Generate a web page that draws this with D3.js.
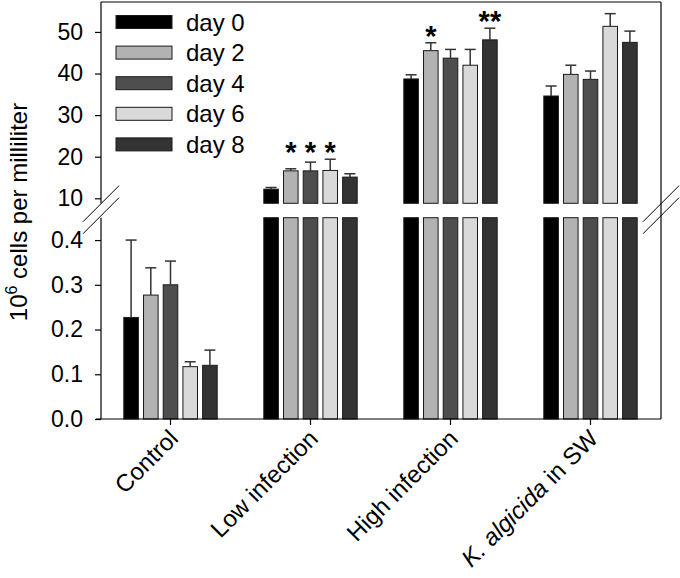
<!DOCTYPE html>
<html><head><meta charset="utf-8">
<script src="https://cdn.jsdelivr.net/npm/d3@7"></script>
<style>
body{margin:0;background:#fff}
text{font-family:"Liberation Sans",Arial,Helvetica,sans-serif;fill:#000}
</style></head>
<body><svg id="chart" width="680" height="578"></svg>
<script>
// ---- data ----
const groups = ["Control", "Low infection", "High infection", "K. algicida in SW"];
const series = ["day 0", "day 2", "day 4", "day 6", "day 8"];
const colors = ["#000000", "#b2b2b2", "#4e4e4e", "#d9d9d9", "#333333"];
const day0 = [0.227, 12.2, 38.7, 34.6];
const day2 = [0.277, 16.6, 45.5, 39.8];
const day4 = [0.300, 16.6, 43.7, 38.6];
const day6 = [0.117, 16.7, 42.0, 51.35];
const day8 = [0.120, 15.1, 48.1, 47.5];
const err0 = [0.173, 0.4, 1.0, 2.4];
const err2 = [0.061, 0.5, 1.9, 2.2];
const err4 = [0.053, 2.1, 2.1, 2.0];
const err6 = [0.011, 2.7, 3.8, 3.05];
const err8 = [0.034, 0.8, 2.8, 2.7];
const star0 = ["", "", "", ""];
const star2 = ["", "*", "*", ""];
const star4 = ["", "*", "", ""];
const star6 = ["", "*", "", ""];
const star8 = ["", "", "**", ""];
const lowTicks = [0.0, 0.1, 0.2, 0.3, 0.4];
const highTicks = [10, 20, 30, 40, 50];
const lowDomain = [0, 0.45];
const highDomain = [8.8, 57.2];

const vals = [day0, day2, day4, day6, day8];
const errs = [err0, err2, err4, err6, err8];
const stars = [star0, star2, star4, star6, star8];

// ---- layout ----
const svg = d3.select("#chart");
const L = 101, R = 661, T = 2, B = 419;
const lowTop = 217.7, highBottom = 203.3;

const x0 = d3.scaleBand().domain(groups).range([L - 0.5, R - 0.5]);
const x1 = d3.scaleBand().domain(series).range([-49.25, 49.25]).paddingInner(0.26).paddingOuter(0.13);
const yLow = d3.scaleLinear().domain(lowDomain).range([B, lowTop]);
const yHigh = d3.scaleLinear().domain(highDomain).range([highBottom, T]);

const lowMax = lowDomain[1];
const bars = [];
series.forEach((s, si) => {
  groups.forEach((g, gi) => {
    bars.push({s, si, g, gi, v: vals[si][gi], e: errs[si][gi], star: stars[si][gi]});
  });
});
const cx = d => x0(d.g) + x0.bandwidth() / 2 + x1(d.s) + x1.bandwidth() / 2;
const bx = d => x0(d.g) + x0.bandwidth() / 2 + x1(d.s);
const yv = v => v <= lowMax ? yLow(v) : yHigh(v);

const g = svg.append("g");

// lower segments
g.selectAll("rect.low").data(bars).join("rect")
  .attr("x", bx).attr("width", x1.bandwidth())
  .attr("y", d => d.v <= lowMax ? yLow(d.v) : yLow(lowMax))
  .attr("height", d => B - (d.v <= lowMax ? yLow(d.v) : yLow(lowMax)))
  .attr("fill", d => colors[d.si]).attr("stroke", "#1a1a1a").attr("stroke-width", 1);

// upper segments
g.selectAll("rect.high").data(bars.filter(d => d.v > lowMax)).join("rect")
  .attr("x", bx).attr("width", x1.bandwidth())
  .attr("y", d => yHigh(d.v))
  .attr("height", d => highBottom - yHigh(d.v))
  .attr("fill", d => colors[d.si]).attr("stroke", "#1a1a1a").attr("stroke-width", 1);

// error bars
const eg = g.append("g").attr("stroke", "#333").attr("stroke-width", 1.5);
eg.selectAll("line.v").data(bars).join("line")
  .attr("x1", cx).attr("x2", cx)
  .attr("y1", d => yv(d.v)).attr("y2", d => yv(d.v + d.e));
eg.selectAll("line.c").data(bars).join("line")
  .attr("x1", d => cx(d) - 5.5).attr("x2", d => cx(d) + 5.5)
  .attr("y1", d => yv(d.v + d.e)).attr("y2", d => yv(d.v + d.e));

// significance stars: adjacent starred bars share the highest height
const starred = bars.filter(d => d.star);
starred.forEach(d => {
  let ytop = yv(d.v + d.e);
  let i = d.si;
  while (i - 1 >= 0 && stars[i - 1][d.gi]) i--;
  let j = d.si;
  while (j + 1 < series.length && stars[j + 1][d.gi]) j++;
  for (let k = i; k <= j; k++) ytop = Math.min(ytop, yv(vals[k][d.gi] + errs[k][d.gi]));
  d.sy = ytop;
});
g.selectAll("text.star").data(starred).join("text")
  .attr("x", cx).attr("y", d => d.sy + 3)
  .attr("text-anchor", "middle")
  .style("font-size", "29px").style("font-weight", "bold")
  .text(d => d.star);

// frame
const fr = svg.append("g").attr("stroke", "#000").attr("stroke-width", 1.2).attr("fill", "none");
fr.append("line").attr("x1", L).attr("x2", R).attr("y1", T).attr("y2", T);
fr.append("line").attr("x1", R).attr("x2", R).attr("y1", T).attr("y2", B);
fr.append("line").attr("x1", L).attr("x2", L).attr("y1", T).attr("y2", highBottom);
fr.append("line").attr("x1", L).attr("x2", L).attr("y1", lowTop).attr("y2", B);

// break marks
[L, R].forEach(bxp => {
  [0, 12].forEach(off => {
    fr.append("line")
      .attr("x1", bxp - 18).attr("y1", 221.7 + off)
      .attr("x2", bxp + 18).attr("y2", 185.7 + off)
      .attr("stroke-width", 1);
  });
});

// axes
const fs = "23px";
const axLow = svg.append("g").attr("transform", `translate(${L},0)`)
  .call(d3.axisLeft(yLow).tickValues(lowTicks).tickFormat(d3.format(".1f")).tickSize(6).tickPadding(12));
const axHigh = svg.append("g").attr("transform", `translate(${L},0)`)
  .call(d3.axisLeft(yHigh).tickValues(highTicks).tickFormat(d3.format("d")).tickSize(6).tickPadding(12));
[axLow, axHigh].forEach(a => {
  a.select(".domain").remove();
  a.selectAll("line").attr("stroke", "#000").attr("stroke-width", 1.2);
  a.selectAll("text").style("font-size", fs).attr("fill", "#000");
});

const axX = svg.append("g").attr("transform", `translate(0,${B})`)
  .call(d3.axisBottom(x0).tickSize(6).tickFormat(""));
axX.select(".domain").attr("d", `M${L - 5},0H${R}`).attr("stroke", "#000").attr("stroke-width", 1.2);
axX.selectAll("line").attr("stroke", "#000").attr("stroke-width", 1.2);

// x labels
groups.forEach(gname => {
  const px = x0(gname) + x0.bandwidth() / 2 + 9;
  const t = svg.append("text")
    .attr("transform", `translate(${px},${B + 21}) rotate(-45)`)
    .attr("text-anchor", "end").style("font-size", "24px");
  if (gname.startsWith("K. algicida")) {
    t.append("tspan").style("font-style", "italic").text("K. algicida");
    t.append("tspan").text(gname.slice("K. algicida".length));
  } else t.text(gname);
});

// y title
const yt = svg.append("text")
  .attr("transform", `translate(27,212) rotate(-90)`)
  .attr("text-anchor", "middle").style("font-size", "24px");
yt.append("tspan").text("10");
yt.append("tspan").attr("dy", -10).style("font-size", "16px").text("6");
yt.append("tspan").attr("dy", 10).text(" cells per milliliter");

// legend
const lg = svg.append("g");
series.forEach((s, i) => {
  const yy = 22 + i * 30.6;
  lg.append("rect").attr("x", 116).attr("y", yy - 6.5).attr("width", 56).attr("height", 13)
    .attr("fill", colors[i]).attr("stroke", "#1a1a1a").attr("stroke-width", 1);
  lg.append("text").attr("x", 186).attr("y", yy + 8.5).style("font-size", "24px").text(s);
});
</script></body></html>
